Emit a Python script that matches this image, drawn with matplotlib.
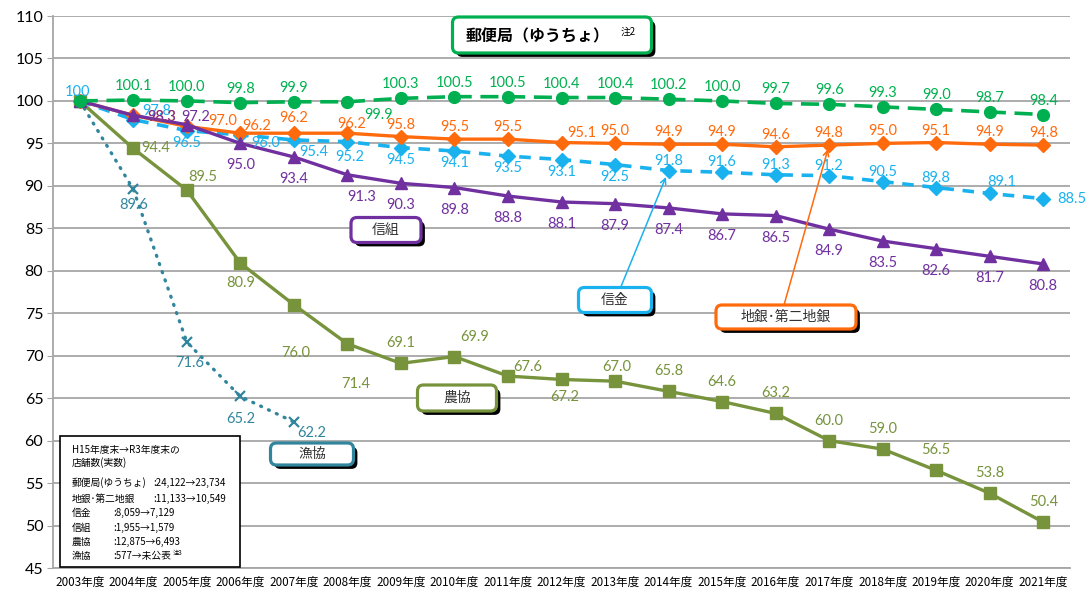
import matplotlib
matplotlib.use("Agg")
import matplotlib.pyplot as plt
import matplotlib.patheffects as pe
from matplotlib.patches import FancyBboxPatch, Rectangle
from matplotlib.transforms import IdentityTransform

plt.rcParams["font.family"] = ["Lato", "Noto Sans CJK JP", "DejaVu Sans"]
JP = ["Noto Sans CJK JP", "DejaVu Sans"]

W, H = 1090, 594

years = ["2003年度", "2004年度", "2005年度", "2006年度", "2007年度", "2008年度",
         "2009年度", "2010年度", "2011年度", "2012年度", "2013年度", "2014年度",
         "2015年度", "2016年度", "2017年度", "2018年度", "2019年度", "2020年度",
         "2021年度"]

post = [100.0, 100.1, 100.0, 99.8, 99.9, 99.9, 100.3, 100.5, 100.5, 100.4,
        100.4, 100.2, 100.0, 99.7, 99.6, 99.3, 99.0, 98.7, 98.4]
chigin = [100.0, 98.3, 97.0, 96.2, 96.2, 96.2, 95.8, 95.5, 95.5, 95.1,
          95.0, 94.9, 94.9, 94.6, 94.8, 95.0, 95.1, 94.9, 94.8]
shinkin = [100.0, 97.8, 96.5, 96.0, 95.4, 95.2, 94.5, 94.1, 93.5, 93.1,
           92.5, 91.8, 91.6, 91.3, 91.2, 90.5, 89.8, 89.1, 88.5]
shinkumi = [100.0, 98.3, 97.2, 95.0, 93.4, 91.3, 90.3, 89.8, 88.8, 88.1,
            87.9, 87.4, 86.7, 86.5, 84.9, 83.5, 82.6, 81.7, 80.8]
nokyo = [100.0, 94.4, 89.5, 80.9, 76.0, 71.4, 69.1, 69.9, 67.6, 67.2,
         67.0, 65.8, 64.6, 63.2, 60.0, 59.0, 56.5, 53.8, 50.4]
gyokyo = [100.0, 89.6, 71.6, 65.2, 62.2]

note_names = ["郵便局(ゆうちょ)", "地銀･第二地銀", "信金", "信組", "農協", "漁協"]
note_counts = [":24,122→23,734", ":11,133→10,549", ":8,059→7,129",
               ":1,955→1,579", ":12,875→6,493", ":577→未公表"]

C_POST = "#00B050"
C_CHIGIN = "#FF6A0D"
C_SHINKIN = "#1AB2EE"
C_SHINKUMI = "#7030A0"
C_NOKYO = "#77933C"
C_GYOKYO = "#31859C"

fig = plt.figure(figsize=(W / 100, H / 100), dpi=100)
ax = fig.add_axes([53 / W, 1 - 568 / H, (1070 - 53) / W, (568 - 16) / H])
ax.set_xlim(-0.5, 18.5)
ax.set_ylim(45, 110)
ax.set_yticks(range(45, 111, 5))
ax.yaxis.grid(True, color="#A6A6A6", lw=1.3)
ax.set_axisbelow(True)
for s in ["top", "right"]:
    ax.spines[s].set_visible(False)
for s in ["left", "bottom"]:
    ax.spines[s].set_color("#A6A6A6")
    ax.spines[s].set_linewidth(1.3)
ax.tick_params(axis="y", length=4, color="#A6A6A6", labelsize=11.5, pad=3)
ax.set_xticks(range(len(years)))
ax.set_xticklabels(years, fontsize=8.4, family=JP)
ax.tick_params(axis="x", length=0, pad=6)

xs = list(range(len(years)))

ax.plot(range(len(gyokyo)), gyokyo, color=C_GYOKYO, lw=2.4, ls=(0, (0.3, 2.3)),
        dash_capstyle="round", marker="x", ms=7, mew=1.6, zorder=3)
ax.plot(xs, nokyo, color=C_NOKYO, lw=2.4, marker="s", ms=8, zorder=3)
ax.plot(xs, shinkin, color=C_SHINKIN, lw=2.6, ls=(0, (3.2, 2.4)), marker="D", ms=7, zorder=4)
ax.plot(xs, chigin, color=C_CHIGIN, lw=2.4, marker="D", ms=7, zorder=4)
ax.plot(xs, shinkumi, color=C_SHINKUMI, lw=2.4, marker="^", ms=8, zorder=5)
ax.plot(xs, post, color=C_POST, lw=2.6, ls=(0, (5, 2.4)), marker="o", ms=8.5, zorder=6)


def put_labels(vals, color, default, overrides, first=False):
    # offsets in pixels, image y pointing down
    for i, v in enumerate(vals):
        if i == 0 and not first:
            continue
        o = overrides.get(i, default)
        dx, dy = o[0], o[1]
        ha = o[2] if len(o) > 2 else "center"
        ax.annotate(f"{v:.1f}" if i else "100", (i, v), xytext=(dx * 0.72, -dy * 0.72),
                    textcoords="offset points", ha=ha, va="center",
                    color=color, fontsize=10.5, zorder=7)


put_labels(post, C_POST, (0, -14), {5: (31, 13)})
put_labels(chigin, C_CHIGIN, (0, -12),
           {1: (28, 2), 2: (36, -5), 3: (16, -7), 4: (0, -15), 5: (4, -9), 9: (20, -10)})
sk = {i: (0, -10) for i in range(11, 19)}
sk.update({0: (-2, -9), 1: (23, -9), 3: (25, 8), 4: (20, 12), 5: (2, 15),
           17: (12, -11), 18: (14, 0, "left")})
put_labels(shinkin, C_SHINKIN, (0, 12), sk, first=True)
put_labels(shinkumi, C_SHINKUMI, (0, 22), {1: (28, 2), 2: (9, -8), 5: (14, 22)})
put_labels(nokyo, C_NOKYO, (0, -20),
           {1: (22, 0), 2: (16, -13), 3: (0, 20), 4: (2, 48), 5: (8, 40),
            7: (20, -20), 8: (20, -9), 9: (3, 18), 10: (2, -14)})
put_labels(gyokyo, C_GYOKYO, (0, 16), {2: (3, 21), 3: (0, 23), 4: (18, 11)})

# arrows from callouts
ax.annotate("", xy=(11, shinkin[11]), xytext=(620 / W, 1 - 289 / H),
            textcoords="figure fraction",
            arrowprops=dict(arrowstyle="->", color=C_SHINKIN, lw=1.1, shrinkA=0, shrinkB=5),
            zorder=8)
ax.annotate("", xy=(14, chigin[14]), xytext=(784 / W, 1 - 305 / H),
            textcoords="figure fraction",
            arrowprops=dict(arrowstyle="->", color=C_CHIGIN, lw=1.1, shrinkA=0, shrinkB=3),
            zorder=8)


def callout(cx, cy, w, h, edge):
    p = FancyBboxPatch((cx - w / 2, H - cy - h / 2), w, h,
                       boxstyle="round,pad=0,rounding_size=6",
                       transform=IdentityTransform(), fc="white", ec=edge, lw=2.3,
                       path_effects=[pe.withSimplePatchShadow(offset=(2.8, -2.8),
                                                              shadow_rgbFace="black", alpha=1)])
    fig.add_artist(p)


callout(552, 35, 199, 36, C_POST)
fig.text(537 / W, 1 - 36 / H, "郵便局（ゆうちょ）", ha="center", va="center",
         fontsize=11.5, fontweight="bold", family=JP)
fig.text(628 / W, 1 - 32 / H, "注2", ha="center", va="center", fontsize=7, family=JP)

boxes = [(386, 230, 70, 25, C_SHINKUMI, "信組"),
         (457, 398, 79, 26, C_NOKYO, "農協"),
         (615, 300, 73, 25, C_SHINKIN, "信金"),
         (786, 317, 140, 24, C_CHIGIN, "地銀･第二地銀"),
         (312, 454, 83, 22, C_GYOKYO, "漁協")]
for cx, cy, w, h, col, txt in boxes:
    callout(cx, cy, w, h, col)
    fig.text(cx / W, 1 - cy / H, txt, ha="center", va="center", fontsize=10,
             family=JP, color="#333333")

# note box
fig.add_artist(Rectangle((60, H - 567), 180, 131, transform=IdentityTransform(),
                         fc="white", ec="black", lw=1.2))
fig.text(72 / W, 1 - 450 / H, "H15年度末→R3年度末の", fontsize=7, family=JP, va="center")
fig.text(72 / W, 1 - 463 / H, "店舗数(実数)", fontsize=7, family=JP, va="center")
row_y = [483, 499, 513, 528, 542, 556]
col_x = [153, 153, 113, 113, 113, 113]
for name, cnt, yy, cx in zip(note_names, note_counts, row_y, col_x):
    fig.text(72 / W, 1 - yy / H, name, fontsize=7, family=JP, va="center")
    fig.text(cx / W, 1 - yy / H, cnt, fontsize=7, family=JP, va="center")
fig.text(173 / W, 1 - 553 / H, "注3", fontsize=4.5, family=JP, va="center")

fig.savefig("out.png", dpi=100)
